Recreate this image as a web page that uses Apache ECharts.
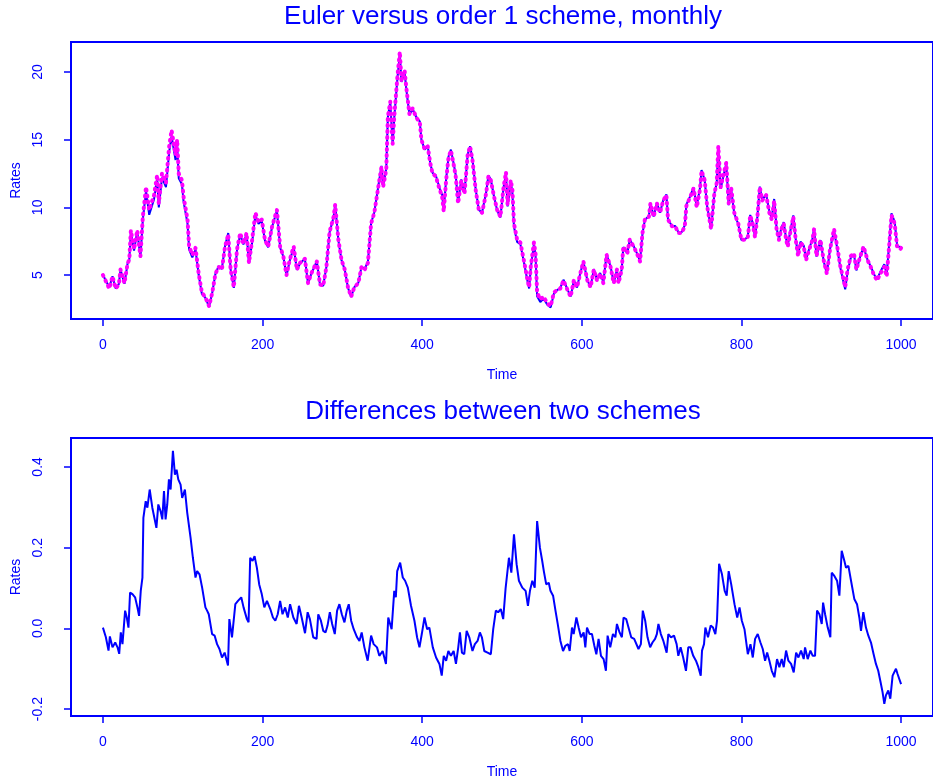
<!DOCTYPE html>
<html>
<head>
	<meta charset="utf-8">
	<title>Euler versus order 1 scheme</title>
	<script src="https://cdn.jsdelivr.net/npm/echarts@6/dist/echarts.min.js"></script>
	<style>
		html, body { margin: 0; padding: 0; background: #fff; }
		#chart { width: 933px; height: 780px; }
	</style>
</head>
<body>
	<div id="chart"></div>
	<script>
	// time points (monthly steps)
	var ratesTime = [0,8,12,16,20,22,27,31,33,35,39,43,47,50,54,58,64,68,70,74,79,83,86,91,93,95,99,101,106,108,112,116,120,124,128,133,137,141,145,149,153,157,160,164,168,172,176,180,183,187,191,195,199,203,207,212,218,222,226,230,234,239,243,247,253,257,261,268,272,276,280,284,289,291,295,299,303,307,311,315,320,324,328,332,336,340,345,349,351,355,357,360,363,365,369,372,374,378,380,384,388,393,397,399,403,407,410,413,417,422,425,427,430,433,436,440,442,445,449,453,457,460,463,467,471,475,480,483,486,490,494,498,502,505,507,511,513,515,519,523,528,532,534,536,540,542,544,548,552,557,561,565,569,573,577,582,586,590,594,598,602,607,611,615,619,623,627,631,636,640,644,646,650,652,657,660,665,669,673,676,679,684,686,690,694,698,702,706,708,713,717,721,725,729,731,736,740,744,748,750,754,757,762,766,769,771,774,777,781,784,787,791,796,800,804,808,811,814,817,820,823,826,831,835,838,841,844,847,850,853,856,858,862,865,868,871,874,878,881,885,889,891,894,899,903,907,911,916,920,924,927,930,933,937,941,944,949,953,958,962,966,970,974,979,982,985,988,992,995,999,1000];
	var order1Rates = [5.0,4.0,4.9,4.0,4.3,5.4,4.4,5.9,6.1,8.3,6.9,8.3,6.4,9.3,11.5,9.8,10.9,12.4,10.3,12.5,11.8,14.5,15.7,13.9,15.0,12.5,12.0,10.8,9.1,7.1,6.5,7.0,5.1,3.7,3.4,2.7,3.7,5.1,5.6,5.4,7.1,8.0,5.4,4.1,6.9,8.1,7.3,8.1,5.9,7.6,9.6,8.9,9.1,7.6,7.1,8.6,9.8,7.1,6.4,5.0,6.1,7.1,5.4,5.9,6.2,4.4,5.1,6.0,4.3,4.2,5.6,8.2,9.3,10.2,7.6,6.1,5.4,4.1,3.4,4.1,4.4,5.6,5.4,5.9,8.8,9.6,11.5,13.0,11.5,12.8,16.7,17.8,14.7,16.7,19.7,21.5,19.4,20.1,18.9,16.9,17.3,16.6,16.3,15.0,14.3,14.5,13.3,12.5,12.3,11.3,10.8,9.7,12.0,13.7,14.2,13.0,12.3,10.3,12.0,11.0,13.9,14.5,13.5,11.3,9.8,9.6,11.0,12.3,12.0,10.8,9.8,9.3,11.5,12.6,10.2,12.0,11.3,8.8,7.6,7.4,5.9,4.6,4.1,5.6,7.4,6.6,3.7,3.2,3.4,2.9,2.7,3.7,3.9,4.0,4.6,3.9,3.4,4.6,4.1,5.1,6.0,4.6,4.1,5.4,4.6,5.1,4.4,6.5,5.6,4.4,5.4,4.4,5.4,7.1,6.6,7.6,7.1,6.6,6.0,8.1,9.1,9.3,10.3,9.3,10.3,9.6,10.5,10.9,9.1,8.6,8.6,8.1,8.1,8.6,10.1,10.8,11.4,10.0,11.3,12.7,12.0,10.1,8.4,11.0,11.8,14.5,11.5,12.3,13.3,10.3,11.5,9.6,8.8,7.6,7.6,7.8,9.4,8.8,7.8,9.3,11.5,10.5,10.9,9.6,9.1,10.5,8.4,7.6,8.4,8.8,7.6,7.1,8.4,9.3,7.6,6.4,7.4,7.1,6.1,6.9,7.6,8.4,6.4,7.6,6.1,5.1,6.9,8.4,7.1,5.6,4.9,4.1,5.4,6.4,6.6,5.4,6.4,7.1,6.1,5.6,5.0,4.6,5.1,5.6,4.9,7.1,9.4,8.8,7.1,6.9,7.0];
	var eulerRates = [5.0,4.1,4.9,4.0,4.35,5.4,4.35,5.9,6.1,8.2,6.8,8.25,6.3,9.1,11.2,9.45,10.6,12.15,10.0,12.2,11.5,14.1,15.25,13.5,14.6,12.15,11.7,10.45,8.8,6.9,6.3,6.87,5.0,3.6,3.35,2.67,3.7,5.1,5.65,5.45,7.15,8.1,5.4,4.05,6.85,8.0,7.25,8.08,5.88,7.43,9.42,8.78,9.0,7.55,7.05,8.57,9.77,7.03,6.37,4.95,6.04,7.07,5.39,5.85,6.21,4.37,5.08,6.03,4.28,4.21,5.6,8.16,9.29,10.21,7.56,6.07,5.39,4.06,3.38,4.1,4.42,5.61,5.45,5.98,8.82,9.64,11.56,13.06,11.56,12.89,16.67,17.8,14.65,16.61,19.56,21.34,19.27,19.98,18.8,16.84,17.28,16.62,16.35,15.01,14.27,14.5,13.3,12.55,12.37,11.39,10.92,9.77,12.08,13.76,14.27,13.06,12.39,10.35,12.06,11.06,13.91,14.52,13.56,11.34,9.81,9.62,11.06,12.36,12.06,10.8,9.76,9.25,11.47,12.5,10.07,11.86,11.1,8.57,7.44,7.28,5.8,4.54,4.01,5.49,7.28,6.5,3.43,3.0,3.26,2.79,2.61,3.62,3.89,4.03,4.65,3.94,3.4,4.6,4.08,5.12,6.01,4.6,4.11,5.44,4.66,5.15,4.48,6.52,5.65,4.41,5.39,4.41,5.42,7.07,6.6,7.62,7.13,6.62,6.04,8.06,9.08,9.34,10.33,9.33,10.31,9.61,10.53,10.96,9.11,8.62,8.62,8.17,8.15,8.67,10.2,10.85,11.47,10.09,11.41,12.75,12.0,10.1,8.39,11.0,11.78,14.36,11.37,12.2,13.22,10.16,11.39,9.54,8.77,7.58,7.6,7.86,9.44,8.87,7.83,9.31,11.53,10.55,10.96,9.68,9.2,10.62,8.48,7.7,8.48,8.9,7.66,7.18,8.49,9.41,7.66,6.47,7.46,7.18,6.15,6.96,7.67,8.47,6.36,7.58,6.04,5.1,6.92,8.27,6.98,5.52,4.71,3.94,5.25,6.28,6.53,5.34,6.4,7.06,6.12,5.64,5.06,4.7,5.23,5.79,5.07,7.25,9.55,8.92,7.21,7.01,7.14];

	// bottom panel: differences between the two schemes
	var diffTime = [0,3.7,7,8.7,12,15.4,18.3,20.4,22.4,24.5,27.8,29.9,32,34,37,40.3,43.2,45.3,47.4,49.5,50.7,53.6,55.7,58.6,61.9,64,67,69.4,72.3,74.4,76.5,78.5,80.6,82.7,84.8,87.7,90.2,92.3,94.4,97.3,99.3,102.7,105.6,109.8,112.7,116,118,121,124.3,128.4,130.5,132.6,136.8,140,143,146,149.2,152.5,156.7,158.4,161.7,165.9,169.2,173.3,176.2,180.4,182.5,184.5,187.5,190,192.9,195.8,199,202.2,205.5,209.7,213,216,219,222,225,228.3,231.6,234.5,238.6,242.7,245.6,249,253.2,256.5,259.3,263.5,267.7,269.8,273.1,276,278.9,281.4,284.3,287.2,290.5,293.4,296.3,299.3,302.6,305.5,308,311,314.2,318.4,321.4,324.2,327.6,331.7,336,339.2,343.4,346.3,350.5,354.6,357.5,361.7,365,367,368.7,372.4,375.7,378.6,382,386,390.3,393.6,396.6,399.5,402.9,406.2,409,413.3,417.4,421.6,424.5,427,430,432.8,436,439.4,442.3,445.2,447.3,449.8,452.7,455.7,459,463,466,469.4,472.3,474.8,477.8,481.9,486,489,492.3,495.2,498.5,501.5,504.5,506.8,508.7,511.7,515,518.3,521.2,525.4,527.5,529.6,532.5,535,538,541,544,547.5,550.4,552.4,555.4,558.6,560.7,564,567,569.8,573.2,576.5,579.4,582.7,584.8,587.7,589.8,593.2,596,599,602.3,604.4,606.5,609.8,612.7,615.7,618.2,621,624,627.3,630.2,632.3,635.6,639,642,644,647.3,650.2,652.3,655.6,658.5,661.9,665.6,668,671,674,676.4,679.4,682.3,685.6,688.5,691.8,694,696,699,702.2,706.3,708.4,711.7,715.5,718.8,720.9,723.8,727,730.5,733.4,736.3,739.6,743,746,749,750.6,753.1,754.8,758.1,761.5,764.4,767.3,769.4,772,775.6,779,781.5,784,787.2,791.3,794.7,797.6,800.5,803.8,808,811.3,814.2,817.1,820.4,823.8,826.7,829.6,832.2,835,838,841.3,844.6,847.5,850.5,853,855.9,858.8,862.2,865.5,868.5,871.4,874.7,878,879.7,883,886.4,889.3,892.2,894.7,897.7,900.6,902.3,904.8,908.1,911.4,913.1,916.4,919.8,922.7,925.6,929,931,934,937.3,941.4,944.8,947.7,949.8,952.7,956,959,962.3,965.6,968.5,971.4,973.9,976.8,979,981,984,986.5,989.4,991.5,993.6,995.6,997.7,1000];
	var diffValues = [0.002,-0.022,-0.055,-0.02,-0.047,-0.035,-0.047,-0.063,-0.01,-0.039,0.044,0.027,0.002,0.089,0.085,0.077,0.052,0.031,0.093,0.126,0.274,0.315,0.299,0.344,0.299,0.295,0.249,0.307,0.29,0.27,0.34,0.27,0.307,0.369,0.344,0.44,0.381,0.393,0.369,0.356,0.323,0.344,0.287,0.225,0.175,0.126,0.142,0.134,0.101,0.052,0.044,0.035,-0.014,-0.018,-0.039,-0.051,-0.072,-0.06,-0.092,0.023,-0.022,0.06,0.068,0.077,0.052,0.023,0.015,0.175,0.167,0.179,0.15,0.109,0.085,0.052,0.068,0.048,0.027,0.019,0.035,0.068,0.035,0.052,0.027,0.06,0.027,0.011,0.056,0.027,-0.012,0.04,0.023,-0.022,-0.026,0.035,0.019,-0.006,-0.01,0.007,0.04,0.011,-0.014,0.044,0.06,0.035,0.015,0.044,0.06,0.019,-0.002,-0.022,-0.031,-0.01,-0.047,-0.08,-0.018,-0.039,-0.047,-0.068,-0.056,-0.088,0.027,-0.002,0.093,0.077,0.142,0.163,0.126,0.118,0.101,0.056,0.019,-0.022,-0.047,-0.014,0.027,-0.002,0.002,-0.047,-0.072,-0.088,-0.117,-0.068,-0.08,-0.056,-0.068,-0.056,-0.088,-0.047,-0.01,-0.06,-0.064,-0.006,-0.022,-0.056,-0.039,-0.031,-0.01,-0.022,-0.056,-0.06,-0.064,-0.002,0.044,0.04,0.048,0.023,0.099,0.1,0.175,0.138,0.233,0.159,0.118,0.101,0.105,0.093,0.056,0.093,0.118,0.101,0.266,0.2,0.167,0.142,0.109,0.113,0.093,0.081,0.044,0.011,-0.031,-0.056,-0.043,-0.039,-0.056,0.002,-0.014,0.027,0.002,-0.022,-0.01,-0.047,0.002,-0.014,-0.014,-0.043,-0.064,-0.026,-0.068,-0.076,-0.105,-0.018,-0.047,-0.014,-0.022,0.011,-0.01,-0.022,0.027,0.023,0.002,-0.022,-0.026,-0.022,-0.051,-0.039,0.044,0.019,-0.022,-0.047,-0.035,-0.026,-0.014,0.011,-0.014,-0.031,-0.06,-0.014,-0.022,-0.018,-0.039,-0.068,-0.047,-0.072,-0.105,-0.047,-0.047,-0.068,-0.08,-0.096,-0.117,-0.055,-0.039,0.002,-0.022,0.007,0.002,-0.014,0.019,0.16,0.134,0.093,0.081,0.142,0.109,0.06,0.027,0.052,0.019,-0.002,-0.064,-0.039,-0.072,-0.026,-0.014,-0.035,-0.051,-0.08,-0.06,-0.08,-0.105,-0.121,-0.076,-0.096,-0.076,-0.096,-0.055,-0.08,-0.088,-0.109,-0.06,-0.072,-0.055,-0.076,-0.047,-0.076,-0.055,-0.068,-0.068,0.044,0.035,0.011,0.064,0.035,0.002,-0.022,0.138,0.13,0.118,0.081,0.192,0.167,0.15,0.155,0.118,0.073,0.06,0.027,-0.006,0.04,0.002,-0.018,-0.035,-0.064,-0.088,-0.105,-0.129,-0.158,-0.187,-0.166,-0.154,-0.174,-0.117,-0.121,-0.1,-0.113,-0.109,-0.138];

	var timeTicks = [0, 200, 400, 600, 800, 1000];
	var rateTicks = [5, 10, 15, 20];
	var diffTicks = [-0.2, 0.0, 0.2, 0.4];

	var BLUE = '#0000ff';
	var MAGENTA = '#ff00ff';
	var FONT = 'Liberation Sans, Arial, sans-serif';

	function zip(xs, ys) {
		return xs.map(function (x, i) { return [x, ys[i]]; });
	}

	function timeAxis(idx) {
		return {
			gridIndex: idx,
			type: 'value',
			min: -40,
			max: 1040,
			name: 'Time',
			nameLocation: 'middle',
			nameGap: 49,
			nameTextStyle: { color: BLUE, fontSize: 14, fontFamily: FONT },
			axisLine: { show: true, onZero: false, lineStyle: { color: BLUE, width: 2 } },
			axisTick: { show: true, length: 7, customValues: timeTicks, lineStyle: { color: BLUE, width: 1.5 } },
			axisLabel: { customValues: timeTicks, color: BLUE, fontSize: 14, fontFamily: FONT, margin: 19,
				formatter: function (v) { return String(v); } },
			splitLine: { show: false }
		};
	}

	function rateAxis(idx, min, max, ticks, fmt) {
		return {
			gridIndex: idx,
			type: 'value',
			min: min,
			max: max,
			name: 'Rates',
			nameLocation: 'middle',
			nameRotate: 90,
			nameGap: 48,
			nameTextStyle: { color: BLUE, fontSize: 14, fontFamily: FONT },
			axisLine: { show: true, onZero: false, lineStyle: { color: BLUE, width: 2 } },
			axisTick: { show: true, length: 7, customValues: ticks, lineStyle: { color: BLUE, width: 1.5 } },
			axisLabel: { customValues: ticks, rotate: 90, color: BLUE, fontSize: 14, fontFamily: FONT, margin: 26, formatter: fmt },
			splitLine: { show: false }
		};
	}

	var chart = echarts.init(document.getElementById('chart'), null, { renderer: 'canvas' });
	var option = {
		animation: false,
		backgroundColor: '#ffffff',
		title: [
			{ text: 'Euler versus order 1 scheme, monthly', left: 503, top: 4, textAlign: 'center', padding: 0,
			  textStyle: { color: BLUE, fontSize: 26, fontWeight: 'normal', fontFamily: FONT } },
			{ text: 'Differences between two schemes', left: 503, top: 399, textAlign: 'center', padding: 0,
			  textStyle: { color: BLUE, fontSize: 26, fontWeight: 'normal', fontFamily: FONT } }
		],
		grid: [
			{ left: 71, right: -3, top: 42, bottom: 461, show: true, borderColor: BLUE, borderWidth: 2 },
			{ left: 71, right: -3, top: 438, bottom: 63, show: true, borderColor: BLUE, borderWidth: 2 }
		],
		xAxis: [timeAxis(0), timeAxis(1)],
		yAxis: [
			rateAxis(0, 1.75, 22.22, rateTicks, function (v) { return String(v); }),
			rateAxis(1, -0.217, 0.4716, diffTicks, function (v) { return v.toFixed(1); })
		],
		series: [
			{
				name: 'Euler', type: 'line', xAxisIndex: 0, yAxisIndex: 0,
				showSymbol: false, data: zip(ratesTime, eulerRates),
				lineStyle: { color: BLUE, width: 2 }
			},
			{
				name: 'Order 1', type: 'line', xAxisIndex: 0, yAxisIndex: 0,
				showSymbol: false, data: zip(ratesTime, order1Rates),
				lineStyle: { color: MAGENTA, width: 4, type: [1, 5], cap: 'round', join: 'round' }
			},
			{
				name: 'Differences', type: 'line', xAxisIndex: 1, yAxisIndex: 1,
				showSymbol: false, data: zip(diffTime, diffValues),
				lineStyle: { color: BLUE, width: 2 }
			}
		]
	};
	chart.setOption(option);
	</script>
</body>
</html>
